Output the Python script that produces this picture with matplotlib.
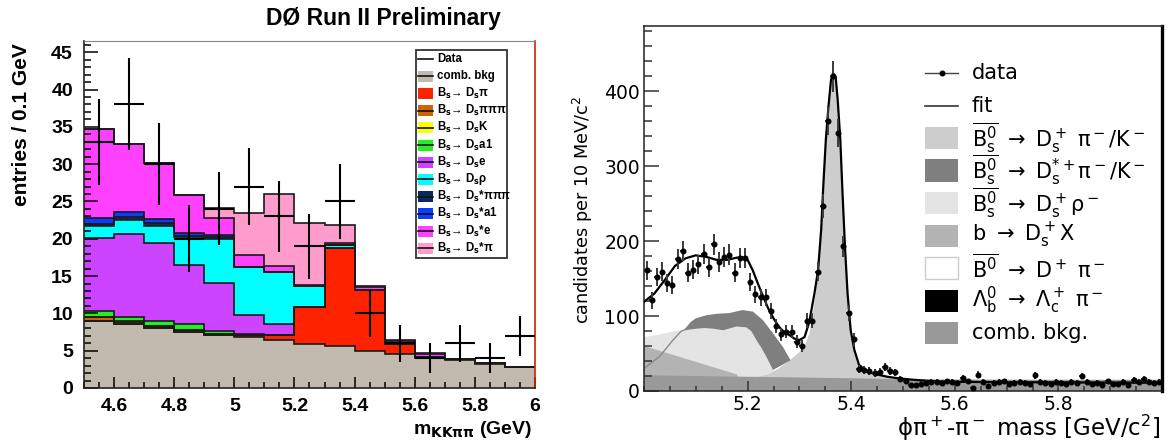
import numpy as np
import matplotlib
matplotlib.use("Agg")
import matplotlib.pyplot as plt
from matplotlib.ticker import MultipleLocator, FixedLocator, FuncFormatter
from matplotlib.patches import Rectangle
from matplotlib.lines import Line2D

plt.rcParams['mathtext.fontset'] = 'dejavusans'

# ---------------- LEFT PANEL DATA (DØ, m_KKpipi) ----------------
left_edges = [4.5, 4.6, 4.7, 4.8, 4.9, 5.0, 5.1, 5.2, 5.3, 5.4, 5.5, 5.6, 5.7, 5.8, 5.9, 6.0]
left_centers = [4.55, 4.65, 4.75, 4.85, 4.95, 5.05, 5.15, 5.25, 5.35, 5.45, 5.55, 5.65, 5.75, 5.85, 5.95]
left_data = [33, 38, 30, 20, 24, 27, 23, 19, 25, 10, 6, 4, 6, 4, 7]

comb_bkg         = [8.95, 8.55, 8.05, 7.57, 7.07, 6.85, 6.40, 5.95, 5.64, 4.97, 4.52, 4.07, 3.80, 3.27, 2.82]
bs_dspi          = [0, 0, 0, 0, 0, 0.25, 0.67, 4.85, 13.16, 8.13, 1.44, 0.10, 0.10, 0.05, 0.05]
bs_dspipipi      = [0.50, 0.35, 0.25, 0.23, 0.10, 0, 0, 0, 0, 0, 0, 0, 0, 0, 0]
bs_dsk           = [0.05, 0.05, 0.05, 0.03, 0.02, 0, 0, 0, 0, 0, 0, 0, 0, 0, 0]
bs_dsa1          = [0.85, 0.55, 0.65, 0.80, 0.50, 0.10, 0, 0, 0, 0, 0, 0, 0, 0, 0]
bs_dse           = [9.80, 11.15, 10.45, 7.80, 6.33, 2.56, 1.48, 0.10, 0, 0, 0, 0, 0, 0, 0]
bs_dsrho         = [1.50, 1.90, 2.30, 3.80, 6.00, 6.44, 7.05, 2.75, 0.30, 0, 0, 0, 0, 0, 0]
bs_dsstar_pipipi = [0.30, 0.30, 0.30, 0.20, 0.20, 0, 0, 0, 0, 0, 0, 0, 0, 0, 0]
bs_dsstar_a1     = [0.80, 0.80, 0.60, 0.40, 0.30, 0, 0, 0, 0, 0, 0, 0, 0, 0, 0]
bs_dsstar_e      = [12.00, 9.00, 7.50, 5.10, 2.20, 1.60, 0.80, 0.15, 0.30, 0.50, 0.34, 0.40, 0, 0, 0]
bs_dsstar_pi     = [0, 0, 0, 0, 1.40, 5.60, 9.60, 8.30, 2.50, 0.10, 0.10, 0.08, 0, 0, 0]

left_legend_labels = ['Data', 'comb. bkg',
                      r'B$_\mathbf{s}$→ D$_\mathbf{s}$π',
                      r'B$_\mathbf{s}$→ D$_\mathbf{s}$πππ',
                      r'B$_\mathbf{s}$→ D$_\mathbf{s}$K',
                      r'B$_\mathbf{s}$→ D$_\mathbf{s}$a1',
                      r'B$_\mathbf{s}$→ D$_\mathbf{s}$e',
                      r'B$_\mathbf{s}$→ D$_\mathbf{s}$ρ',
                      r'B$_\mathbf{s}$→ D$_\mathbf{s}$*πππ',
                      r'B$_\mathbf{s}$→ D$_\mathbf{s}$*a1',
                      r'B$_\mathbf{s}$→ D$_\mathbf{s}$*e',
                      r'B$_\mathbf{s}$→ D$_\mathbf{s}$*π']

# ---------------- RIGHT PANEL DATA (phi pi+ pi- mass) ----------------
right_lo, right_binw = 5.0, 0.01
right_counts = [161, 121, 152, 159, 144, 141, 176, 187, 158, 162,
                169, 183, 165, 196, 172, 179, 182, 158, 178, 178,
                146, 129, 125, 125, 107, 87, 76, 79, 79, 66,
                60, 94, 94, 159, 247, 360, 420, 344, 193, 104,
                69, 29, 28, 27, 24, 26, 32, 27, 25, 16,
                13, 8, 8, 10, 11, 12, 12, 11, 13, 12,
                11, 17, 13, 4, 22, 12, 7, 11, 12, 13,
                10, 11, 12, 11, 10, 21, 12, 11, 10, 12,
                11, 10, 12, 11, 20, 12, 9, 11, 8, 13,
                10, 9, 12, 8, 15, 12, 16, 12, 11, 12]

fit_x = [5.00, 5.02, 5.04, 5.06, 5.08, 5.10, 5.12, 5.14, 5.16, 5.18, 5.19, 5.20, 5.21, 5.22,
         5.23, 5.24, 5.25, 5.26, 5.27, 5.28, 5.29, 5.30, 5.31, 5.319, 5.329, 5.336, 5.342,
         5.346, 5.351, 5.356, 5.361, 5.365, 5.370, 5.374, 5.379, 5.383, 5.388, 5.393, 5.399,
         5.406, 5.415, 5.43, 5.45, 5.47, 5.49, 5.52, 5.57, 5.65, 5.80, 6.00]
fit_y = [119, 130, 148, 167, 177, 181, 179, 175, 175, 178, 178.5, 175, 161, 143,
         126, 110, 97, 86, 79, 75, 70, 68, 72, 92, 130, 161, 215,
         272, 335, 379, 415, 424, 419, 388, 335, 268, 192, 130, 81,
         55, 35, 26, 22, 19, 17, 15, 12.5, 12, 11.5, 11]

sig_x = [5.22, 5.24, 5.26, 5.28, 5.30, 5.31, 5.32, 5.33, 5.336, 5.342, 5.346, 5.351, 5.356,
         5.361, 5.365, 5.370, 5.374, 5.379, 5.383, 5.388, 5.393, 5.399, 5.406, 5.415, 5.43,
         5.45, 5.47, 5.49, 5.50]
sig_y = [19, 22, 30, 40, 52, 60, 78, 122, 156, 208, 264, 328, 372,
         408, 418, 414, 383, 330, 262, 186, 124, 76, 50, 31, 26,
         22, 20, 17, 15]

rho_x = [5.0, 5.02, 5.04, 5.06, 5.076, 5.10, 5.117, 5.135, 5.153, 5.178, 5.197, 5.207,
         5.217, 5.227, 5.236, 5.249, 5.26]
rho_y = [72, 74, 77, 80, 81, 83, 84, 83, 81, 86, 85, 80,
         68, 57, 46, 28, 20]

dstar_x = [5.078, 5.09, 5.10, 5.12, 5.14, 5.165, 5.19, 5.21, 5.229, 5.249, 5.268, 5.283,
           5.249, 5.236, 5.227, 5.217, 5.207, 5.197, 5.178, 5.153, 5.135, 5.117, 5.10, 5.078]
dstar_y = [82, 92, 97, 101, 103, 104, 108, 106, 95, 77, 59, 41,
           28, 46, 57, 68, 80, 85, 86, 81, 83, 84, 83, 81]

bdsx_x = [5.0, 5.18]
bdsx_y = [60, 22]

b0_x = [5.0, 5.03, 5.056, 5.072, 5.08]
b0_y = [30, 46, 68, 80, 82]

combR_x = [5.0, 5.2, 5.4, 5.5, 5.6, 5.8, 6.0]
combR_y = [21, 19, 17, 15.5, 15.3, 15, 15]

right_legend_labels = ['data', 'fit',
                       r'$\overline{\mathrm{B}^0_\mathrm{s}}\ \rightarrow\ \mathrm{D^+_s}\ \mathrm{π^-/K^-}$',
                       r'$\overline{\mathrm{B}^0_\mathrm{s}}\ \rightarrow\ \mathrm{D^{*+}_s π^-/K^-}$',
                       r'$\overline{\mathrm{B}^0_\mathrm{s}}\ \rightarrow\ \mathrm{D^+_s ρ^-}$',
                       r'$\mathrm{b}\ \rightarrow\ \mathrm{D^+_s X}$',
                       r'$\overline{\mathrm{B}^0}\ \rightarrow\ \mathrm{D^+\ π^-}$',
                       r'$\Lambda^0_\mathrm{b}\ \rightarrow\ \Lambda^+_\mathrm{c}\ \mathrm{π^-}$',
                       'comb. bkg.']

# ---------------- FIGURE ----------------
W, H = 1168, 443
fig = plt.figure(figsize=(W / 100, H / 100), dpi=100)


def fx(px):
    return px / W


def fy(py):
    return 1 - py / H


LFONT = ['Liberation Sans', 'DejaVu Sans']
RFONT = ['DejaVu Sans']

# ===== Left axes =====
axL = fig.add_axes([fx(84), fy(388), fx(535) - fx(84), fy(41) - fy(388)])
layers = [comb_bkg, bs_dspi, bs_dspipipi, bs_dsk, bs_dsa1, bs_dse, bs_dsrho,
          bs_dsstar_pipipi, bs_dsstar_a1, bs_dsstar_e, bs_dsstar_pi]
colors = ['#c2b9af', '#ff2200', '#cc6600', '#ffff00', '#22ee22', '#cc44ff', '#00ffff',
          '#0a2a5c', '#0a3dff', '#ff40ff', '#ff9ccc']
cum = np.cumsum(np.array(layers, dtype=float), axis=0)
for k in reversed(range(len(layers))):
    axL.stairs(cum[k], left_edges, baseline=0, fill=True, facecolor=colors[k],
               edgecolor='none', zorder=1)
for k in range(len(layers)):
    axL.stairs(cum[k], left_edges, baseline=None, color='#1a1a1a', lw=1.2, zorder=2)

ld = np.array(left_data, dtype=float)
axL.errorbar(left_centers, ld, yerr=np.sqrt(ld), xerr=0.05, fmt='none',
             ecolor='black', elinewidth=1.5, capsize=0, zorder=3)

axL.set_xlim(4.5, 6.0)
axL.set_ylim(0, 46.5)
axL.xaxis.set_major_locator(MultipleLocator(0.2))
axL.xaxis.set_minor_locator(MultipleLocator(0.05))
axL.yaxis.set_major_locator(MultipleLocator(5))
axL.yaxis.set_minor_locator(MultipleLocator(1))
axL.xaxis.set_major_formatter(FuncFormatter(lambda v, p: f'{v:g}'))
axL.tick_params(axis='both', which='both', direction='in', top=False, right=False, width=1.1)
axL.tick_params(axis='y', which='major', length=10, pad=8)
axL.tick_params(axis='y', which='minor', length=5)
axL.tick_params(axis='x', which='major', length=8, pad=7)
axL.tick_params(axis='x', which='minor', length=4.3)
for lab in axL.get_xticklabels() + axL.get_yticklabels():
    lab.set_fontfamily(LFONT)
    lab.set_fontweight('bold')
    lab.set_fontsize(14)
for s in ['left', 'bottom']:
    axL.spines[s].set_linewidth(1.2)
    axL.spines[s].set_color('#222222')
axL.spines['top'].set_color('#888888')
axL.spines['top'].set_linewidth(0.8)
axL.spines['right'].set_color('#cc2200')
axL.spines['right'].set_linewidth(1.2)

fig.text(fx(501), fy(19), 'DØ Run II Preliminary', ha='right', va='center',
         fontsize=16.5, fontweight='bold', family=LFONT)
fig.text(fx(22), fy(43), 'entries / 0.1 GeV', rotation=90, ha='center', va='top',
         fontsize=15, fontweight='bold', family=LFONT)
fig.text(fx(532), fy(429), r'm$_{\mathbf{KK\pi\pi}}$ (GeV)', ha='right', va='center',
         fontsize=14, fontweight='bold', family=LFONT)

# left legend (manual)
fig.add_artist(Rectangle((fx(416), fy(258)), fx(507) - fx(416), fy(50) - fy(258),
                         transform=fig.transFigure, facecolor='white',
                         edgecolor='#333333', lw=1.3, zorder=5))
leg_colors = [None] + colors
for i, lab in enumerate(left_legend_labels):
    yc = 59 + 17.2 * i
    c = leg_colors[i]
    if c is not None:
        fig.add_artist(Rectangle((fx(418), fy(yc + 5.5)), fx(433) - fx(418), fy(yc - 5.5) - fy(yc + 5.5),
                                 transform=fig.transFigure, facecolor=c, edgecolor='none', zorder=6))
    if i != 2:
        fig.add_artist(Line2D([fx(418), fx(433)], [fy(yc), fy(yc)], transform=fig.transFigure,
                              color='#111111', lw=1.2, zorder=7))
    fig.text(fx(437), fy(yc), lab, ha='left', va='center', fontsize=8.3, fontweight='bold',
             family=LFONT, zorder=8)

# ===== Right axes =====
axR = fig.add_axes([fx(644), fy(391), fx(1162) - fx(644), fy(26) - fy(391)])
axR.fill_between(rho_x, 0, rho_y, facecolor='#e4e4e4', edgecolor='none', zorder=1)
axR.fill_between(sig_x, 0, sig_y, facecolor='#cdcdcd', edgecolor='none', zorder=1.1)
axR.fill(dstar_x, dstar_y, facecolor='#7f7f7f', edgecolor='none', zorder=1.2)
axR.fill_between(bdsx_x, 0, bdsx_y, facecolor='#b3b3b3', edgecolor='none', zorder=1.3)
axR.plot(b0_x, b0_y, color='#8a8a8a', lw=1.0, zorder=1.4)
axR.fill_between(combR_x, 0, combR_y, facecolor='#999999', edgecolor='none', zorder=1.5)
axR.plot(fit_x, fit_y, color='black', lw=1.6, zorder=3)

rc = np.array(right_counts, dtype=float)
mass = right_lo + right_binw * (np.arange(len(rc)) + 0.5)
axR.errorbar(mass, rc, yerr=np.sqrt(rc), xerr=right_binw / 2, fmt='o', ms=3.3,
             mfc='black', mec='black', ecolor='#3a3a3a', elinewidth=1.4, capsize=0, zorder=4)

axR.set_xlim(5.0, 6.0)
axR.set_ylim(0, 487)
axR.xaxis.set_major_locator(FixedLocator([5.2, 5.4, 5.6, 5.8]))
axR.xaxis.set_minor_locator(MultipleLocator(0.05))
axR.yaxis.set_major_locator(MultipleLocator(100))
axR.yaxis.set_minor_locator(MultipleLocator(20))
axR.xaxis.set_major_formatter(FuncFormatter(lambda v, p: f'{v:.1f}'))
axR.tick_params(axis='both', which='both', direction='in', top=False, right=False, width=1.1,
                colors='#333333', labelcolor='black')
axR.tick_params(axis='y', which='major', length=11, pad=3)
axR.tick_params(axis='y', which='minor', length=5.5)
axR.tick_params(axis='x', which='major', length=7, pad=3)
axR.tick_params(axis='x', which='minor', length=3.6)
for lab in axR.get_xticklabels() + axR.get_yticklabels():
    lab.set_fontfamily(RFONT)
    lab.set_fontsize(13.5)
for s in ['left', 'bottom', 'top']:
    axR.spines[s].set_linewidth(1.1)
    axR.spines[s].set_color('#222222')
axR.spines['right'].set_linewidth(2.4)
axR.spines['right'].set_color('black')

fig.text(fx(583), fy(210), r'candidates per 10 MeV/c$^2$', rotation=90, ha='center',
         va='center', fontsize=12.7, family=RFONT)
fig.text(fx(1160), fy(428), r'ϕπ$^+$-π$^-$ mass [GeV/c$^2$]', ha='right', va='center',
         fontsize=16.5, family=RFONT)

# right legend (manual)
sw_colors = [None, None, '#cdcdcd', '#7f7f7f', '#e4e4e4', '#b3b3b3', 'white', 'black', '#999999']
for i, lab in enumerate(right_legend_labels):
    yc = 73 + 32.5 * i
    if i == 0:
        fig.add_artist(Line2D([fx(925), fx(958)], [fy(yc), fy(yc)], transform=fig.transFigure,
                              color='#444444', lw=1.0, zorder=6))
        fig.add_artist(Line2D([fx(941.5)], [fy(yc)], transform=fig.transFigure, marker='o',
                              ms=3.3, color='black', zorder=7))
    elif i == 1:
        fig.add_artist(Line2D([fx(925), fx(958)], [fy(yc), fy(yc)], transform=fig.transFigure,
                              color='#333333', lw=1.2, zorder=6))
    else:
        ec = '#cccccc' if sw_colors[i] == 'white' else 'none'
        fig.add_artist(Rectangle((fx(925), fy(yc + 11)), fx(958) - fx(925), fy(yc - 11) - fy(yc + 11),
                                 transform=fig.transFigure, facecolor=sw_colors[i],
                                 edgecolor=ec, lw=1.0, zorder=6))
    fig.text(fx(972), fy(yc), lab, ha='left', va='center', fontsize=15, family=RFONT, zorder=8)

fig.savefig('out.png', dpi=100)
